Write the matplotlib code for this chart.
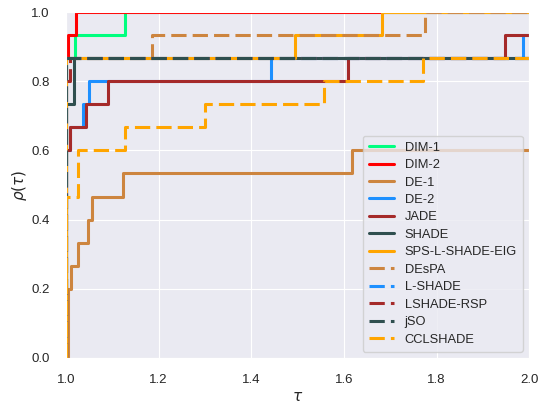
import numpy as np
import matplotlib
matplotlib.use("Agg")
import matplotlib.pyplot as plt
import seaborn as sns

sns.set_style("darkgrid")
plt.rcParams["font.family"] = ["Liberation Sans", "DejaVu Sans"]

# Performance profiles over 15 problems: breakpoints in tau and
# the number of problems solved within that ratio of the best.
n_problems = 15

tau_dim1 = [1.0, 1.0, 1.019, 1.127]
cnt_dim1 = [0, 13, 14, 15]

tau_dim2 = [1.0, 1.0, 1.005, 1.021]
cnt_dim2 = [0, 13, 14, 15]

tau_de1 = [1.0, 1.004, 1.011, 1.026, 1.048, 1.057, 1.124, 1.618]
cnt_de1 = [0, 3, 4, 5, 6, 7, 8, 9]

tau_de2 = [1.0, 1.0, 1.008, 1.037, 1.050, 1.443, 1.986]
cnt_de2 = [0, 9, 10, 11, 12, 13, 14]

tau_jade = [1.0, 1.0, 1.008, 1.044, 1.090, 1.608, 1.947]
cnt_jade = [0, 9, 10, 11, 12, 13, 14]

tau_shade = [1.0, 1.0, 1.017]
cnt_shade = [0, 11, 13]

tau_sps = [1.0, 1.0, 1.495, 1.682]
cnt_sps = [0, 13, 14, 15]

tau_despa = [1.0, 1.0, 1.185, 1.775]
cnt_despa = [0, 13, 14, 15]

tau_lshade = [1.0, 1.0]
cnt_lshade = [0, 13]

tau_rsp = [1.0, 1.0, 1.008]
cnt_rsp = [0, 12, 13]

tau_jso = [1.0, 1.0]
cnt_jso = [0, 13]

tau_ccl = [1.0, 1.0, 1.027, 1.127, 1.300, 1.557, 1.771]
cnt_ccl = [0, 7, 9, 10, 11, 12, 13]

algorithms = ["DIM-1", "DIM-2", "DE-1", "DE-2", "JADE", "SHADE",
              "SPS-L-SHADE-EIG", "DEsPA", "L-SHADE", "LSHADE-RSP", "jSO",
              "CCLSHADE"]
taus = [tau_dim1, tau_dim2, tau_de1, tau_de2, tau_jade, tau_shade, tau_sps,
        tau_despa, tau_lshade, tau_rsp, tau_jso, tau_ccl]
counts = [cnt_dim1, cnt_dim2, cnt_de1, cnt_de2, cnt_jade, cnt_shade, cnt_sps,
          cnt_despa, cnt_lshade, cnt_rsp, cnt_jso, cnt_ccl]
colors = ["springgreen", "red", "peru", "dodgerblue", "brown",
          "darkslategray", "orange", "peru", "dodgerblue", "brown",
          "darkslategray", "orange"]
dashed = [False] * 7 + [True] * 5

tau_max = 2.0

fig = plt.figure(figsize=(5.4, 4.07), dpi=100)
ax = fig.add_axes([0.122, 0.1204, 0.858, 0.8501])

for name, t, c, col, dsh in zip(algorithms, taus, counts, colors, dashed):
    x = np.append(np.asarray(t, float), tau_max)
    y = np.asarray(c, float) / n_problems
    y = np.append(y, y[-1])
    kw = dict(color=col, lw=2.2, drawstyle="steps-post", label=name)
    if dsh:
        line, = ax.plot(x, y, linestyle="--", **kw)
        line.set_dashes((5, 2))
    else:
        ax.plot(x, y, **kw)

ax.set_xlim(1.0, 2.0)
ax.set_ylim(0.0, 1.0)
ax.set_xticks(np.arange(1.0, 2.01, 0.2))
ax.set_yticks(np.arange(0.0, 1.01, 0.2))
ax.xaxis.set_major_formatter(matplotlib.ticker.FormatStrFormatter("%.1f"))
ax.yaxis.set_major_formatter(matplotlib.ticker.FormatStrFormatter("%.1f"))
ax.tick_params(labelsize=9.5, pad=8, colors=".15")
ax.set_xlabel(r"$\tau$", fontsize=11, color=".15", labelpad=3)
ax.set_ylabel(r"$\rho(\tau)$", fontsize=11, color=".15", labelpad=2)

leg = ax.legend(loc="lower right", fontsize=9.3, handlelength=2.0,
                labelspacing=0.42, borderpad=0.45)

fig.savefig("out.png", dpi=100)
